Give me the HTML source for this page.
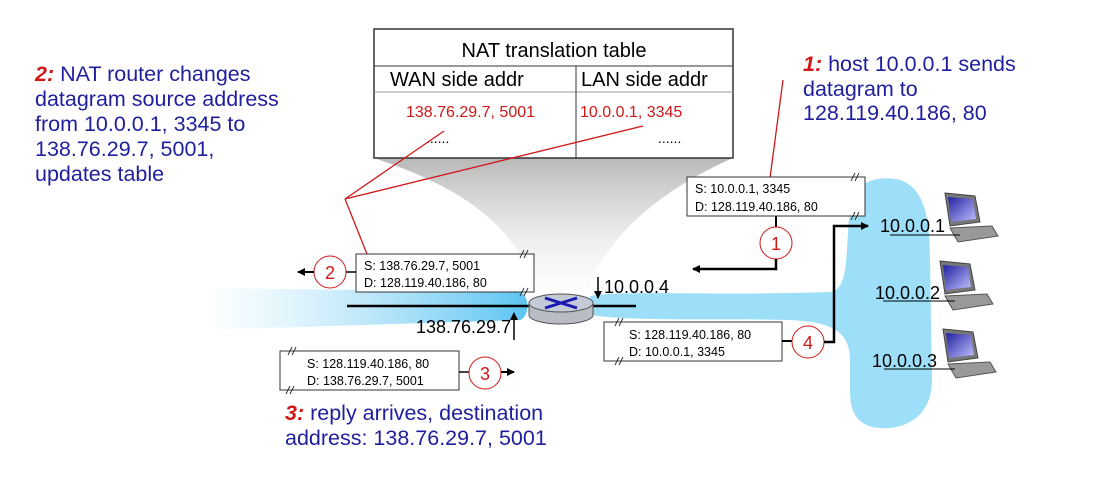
<!DOCTYPE html>
<html><head><meta charset="utf-8"><style>
body{margin:0;background:#fff;}
svg{display:block;font-family:"Liberation Sans","DejaVu Sans",sans-serif;}
.b{fill:#1f1f9e;font-size:21.5px;}
.m{font-size:12.5px;fill:#000;}
.s{stroke:#333;stroke-width:1;fill:none;}
</style></head><body>
<svg width="1104" height="480" viewBox="0 0 1104 480">
<defs>
<linearGradient id="wan" x1="0" x2="1" y1="0" y2="0">
<stop offset="0" stop-color="#9fdcf7" stop-opacity="0"/><stop offset="1" stop-color="#5cc4f2"/></linearGradient>
<linearGradient id="cone" x1="0" x2="0" y1="0" y2="1">
<stop offset="0" stop-color="#b8b8b8"/><stop offset="1" stop-color="#ffffff" stop-opacity="0.3"/></linearGradient>
<linearGradient id="scr" x1="0" x2="1" y1="0" y2="1"><stop offset="0" stop-color="#2020a0"/><stop offset="1" stop-color="#c0c0ff"/></linearGradient>
<marker id="ar" markerWidth="8" markerHeight="8" refX="7" refY="4" orient="auto" markerUnits="userSpaceOnUse"><path d="M0,0 L8,4 L0,8z" fill="#000"/></marker>
</defs>
<path d="M374,158 C470,190 520,230 540,300 L585,300 C600,240 660,190 733,158 Z" fill="url(#cone)"/>
<path d="M205,288 L520,292 C530,296 530,316 520,320 L205,330 Z" fill="url(#wan)"/>
<path d="M590,296 C620,290 700,296 830,292 C850,290 845,250 850,210 C852,180 880,175 900,180 C925,188 930,220 930,260 L932,380 C932,420 900,430 880,428 C855,426 850,410 850,390 L850,360 C850,330 830,322 790,320 C720,318 640,322 590,315 Z" fill="#9ddff8"/>
<rect x="374" y="29" width="359" height="129" fill="#fff" stroke="#333" stroke-width="1.5"/>
<line x1="374" y1="66" x2="733" y2="66" stroke="#333"/>
<line x1="374" y1="92" x2="733" y2="92" stroke="#999"/>
<line x1="576" y1="66" x2="576" y2="158" stroke="#333"/>
<text x="554" y="57" font-size="20" text-anchor="middle">NAT translation table</text>
<text x="390" y="86" font-size="20">WAN side addr</text>
<text x="581" y="86" font-size="20">LAN side addr</text>
<text x="406" y="117" font-size="16" fill="#d01818">138.76.29.7, 5001</text>
<text x="580" y="117" font-size="16" fill="#d01818">10.0.0.1, 3345</text>
<text x="426" y="143" font-size="14">......</text>
<text x="658" y="143" font-size="14">......</text>
<path d="M444,131 L345,199 L643,126 M345,199 L367,254" stroke="#d01818" stroke-width="1.3" fill="none"/>
<path d="M770,178 L783,80" stroke="#d01818" stroke-width="1.3"/>
<line x1="347" y1="306" x2="530" y2="306" stroke="#000" stroke-width="2.5"/>
<line x1="593" y1="306" x2="636" y2="306" stroke="#000" stroke-width="2.5"/>
<path d="M529,303 L529,315 A32,9 0 0 0 593,315 L593,303 Z" fill="#b8bcc4" stroke="#555"/>
<ellipse cx="561" cy="303" rx="32" ry="9" fill="#c4cad6" stroke="#555"/>
<path d="M545,298 L577,308 M545,308 L577,298" stroke="#1a1ab0" stroke-width="3"/>
<text x="604" y="293" font-size="18">10.0.0.4</text>
<line x1="598" y1="277" x2="598" y2="298" stroke="#000" stroke-width="1.5" marker-end="url(#ar)"/>
<text x="416" y="333" font-size="18">138.76.29.7</text>
<line x1="514" y1="340" x2="514" y2="313" stroke="#000" stroke-width="1.5" marker-end="url(#ar)"/>
<!-- packet 2 -->
<rect x="356" y="254" width="178" height="38" fill="#fff" stroke="#333"/>
<path class="s" d="M520,258 L524,250 M524,258 L528,250 M520,296 L524,288 M524,296 L528,288"/>
<text x="364" y="270" class="m">S: 138.76.29.7, 5001</text>
<text x="364" y="287" class="m">D: 128.119.40.186, 80</text>
<line x1="356" y1="272" x2="346" y2="272" stroke="#000" stroke-width="1.5"/>
<circle cx="330" cy="272" r="16" fill="#fff" stroke="#d01818"/>
<text x="330" y="279" font-size="18" fill="#d01818" text-anchor="middle">2</text>
<line x1="314" y1="272" x2="298" y2="272" stroke="#000" stroke-width="2" marker-end="url(#ar)"/>
<!-- packet 3 -->
<rect x="280" y="351" width="179" height="39" fill="#fff" stroke="#333"/>
<path class="s" d="M288,355 L292,347 M292,355 L296,347 M286,394 L290,386 M290,394 L294,386"/>
<text x="307" y="368" class="m">S: 128.119.40.186, 80</text>
<text x="307" y="385" class="m">D: 138.76.29.7, 5001</text>
<line x1="459" y1="372" x2="469" y2="372" stroke="#000" stroke-width="1.5"/>
<circle cx="485" cy="373" r="16" fill="#fff" stroke="#d01818"/>
<text x="485" y="380" font-size="18" fill="#d01818" text-anchor="middle">3</text>
<line x1="501" y1="372" x2="514" y2="372" stroke="#000" stroke-width="2" marker-end="url(#ar)"/>
<!-- packet 1 -->
<rect x="687" y="177" width="178" height="39" fill="#fff" stroke="#333"/>
<path class="s" d="M851,181 L855,173 M855,181 L859,173 M851,220 L855,212 M855,220 L859,212"/>
<text x="695" y="193" class="m">S: 10.0.0.1, 3345</text>
<text x="695" y="211" class="m">D: 128.119.40.186, 80</text>
<polyline points="776,216 776,227" stroke="#000" stroke-width="2" fill="none"/>
<circle cx="776" cy="243" r="16" fill="#fff" stroke="#d01818"/>
<text x="776" y="250" font-size="18" fill="#d01818" text-anchor="middle">1</text>
<polyline points="776,259 776,269 693,269" stroke="#000" stroke-width="2.5" fill="none" marker-end="url(#ar)"/>
<!-- packet 4 -->
<rect x="604" y="322" width="178" height="39" fill="#fff" stroke="#333"/>
<path class="s" d="M615,326 L619,318 M619,326 L623,318 M615,365 L619,357 M619,365 L623,357"/>
<text x="629" y="339" class="m">S: 128.119.40.186, 80</text>
<text x="629" y="356" class="m">D: 10.0.0.1, 3345</text>
<line x1="782" y1="341" x2="792" y2="341" stroke="#000" stroke-width="2"/>
<circle cx="808" cy="342" r="16" fill="#fff" stroke="#d01818"/>
<text x="808" y="349" font-size="18" fill="#d01818" text-anchor="middle">4</text>
<polyline points="824,342 834,342 834,226 868,226" stroke="#000" stroke-width="2.5" fill="none" marker-end="url(#ar)"/>
<g id="pc">
<path d="M945,193 L975,196 L980,222 L950,226 Z" fill="#777" stroke="#444"/>
<path d="M948,197 L973,199 L976,219 L951,222 Z" fill="url(#scr)"/>
<path d="M950,228 L992,226 L998,236 L958,242 Z" fill="#999" stroke="#555"/>
</g>
<use href="#pc" transform="translate(-5,68)"/>
<use href="#pc" transform="translate(-2,136)"/>
<text x="880" y="232" font-size="18">10.0.0.1</text>
<line x1="890" y1="235" x2="960" y2="235" stroke="#000"/>
<text x="875" y="299" font-size="18">10.0.0.2</text>
<line x1="883" y1="301" x2="955" y2="301" stroke="#000"/>
<text x="872" y="367" font-size="18">10.0.0.3</text>
<line x1="884" y1="369" x2="955" y2="369" stroke="#000"/>
<text class="b" x="35" y="81"><tspan fill="#d01818" font-weight="bold" font-style="italic">2:</tspan> NAT router changes</text>
<text class="b" x="35" y="106">datagram source address</text>
<text class="b" x="35" y="131">from 10.0.0.1, 3345 to</text>
<text class="b" x="35" y="156">138.76.29.7, 5001,</text>
<text class="b" x="35" y="181">updates table</text>
<text class="b" x="803" y="71"><tspan fill="#d01818" font-weight="bold" font-style="italic">1:</tspan> host 10.0.0.1 sends</text>
<text class="b" x="803" y="96">datagram to</text>
<text class="b" x="803" y="120">128.119.40.186, 80</text>
<text class="b" x="285" y="420"><tspan fill="#d01818" font-weight="bold" font-style="italic">3:</tspan> reply arrives, destination</text>
<text class="b" x="285" y="445">address: 138.76.29.7, 5001</text>
</svg>
</body></html>
